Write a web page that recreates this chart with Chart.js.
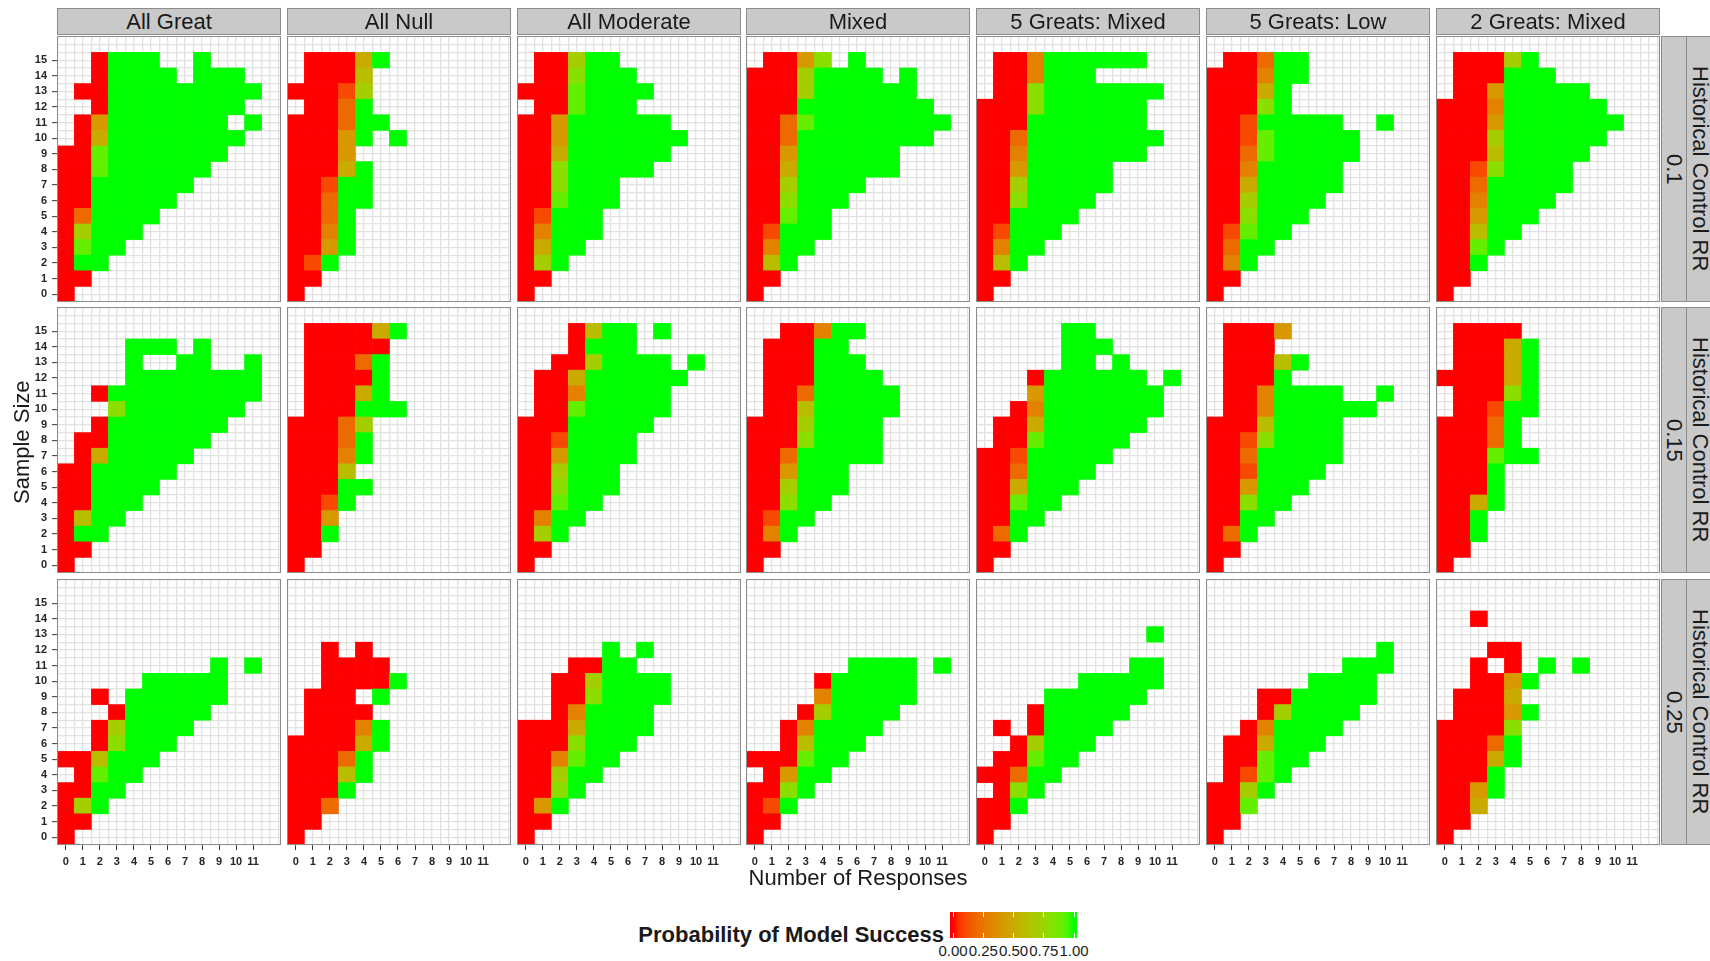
<!DOCTYPE html>
<html>
<head>
<meta charset="utf-8">
<title>Probability of Model Success</title>
<script src="https://cdn.jsdelivr.net/npm/chart.js@4.4.1/dist/chart.umd.min.js"></script>
<style>
  body { margin: 0; background: #fff; font-family: "Liberation Sans", Arial, sans-serif; color: #1a1a1a; }
  #page { position: relative; width: 1710px; height: 961px; overflow: hidden; }
  .strip { position: absolute; box-sizing: border-box; background: #c9c9c9; border: 1px solid #8c8c8c;
           font-size: 22px; display: flex; align-items: center; justify-content: center; white-space: nowrap; }
  .vert { writing-mode: vertical-rl; }
  .frame { position: absolute; box-sizing: border-box; border: 1px solid #8c8c8c; pointer-events: none; }
  .txt { position: absolute; white-space: nowrap; }
</style>
</head>
<body>
<div id="page"></div>
<script>
// --- DATA --- //
const responses = [0, 1, 2, 3, 4, 5, 6, 7, 8, 9, 10, 11];            // x: number of responses
const sampleSizes = [0, 1, 2, 3, 4, 5, 6, 7, 8, 9, 10, 11, 12, 13, 14, 15]; // y: sample size
const designs = ["All Great", "All Null", "All Moderate", "Mixed", "5 Greats: Mixed", "5 Greats: Low", "2 Greats: Mixed"];
const controlRR = ["0.1", "0.15", "0.25"];
const legendBreaks = [0, 0.25, 0.5, 0.75, 1];

// One string per sample size (15 at the top down to 0), one char per response 0..11.
// digit = probability in tenths, G = 1.00, . = no tile
const rr10_allGreat = ["..0GGG..G...", "..0GGGG.GGG.", ".00GGGGGGGGG", "..0GGGGGGGG.", ".04GGGGGGG.G", ".05GGGGGGGG.",
  "009GGGGGGG..", "009GGGGGG...", "00GGGGGG....", "00GGGGG.....", "02GGGG......", "07GGG.......", "09GG........",
  "0GG.........", "00..........", "0..........."];
const rr10_allNull = [".0005G......", ".0006.......", "00017.......", ".002G.......", "0002GG......", "0004G.G.....",
  "0004........", "0005G.......", "001GG.......", "002GG.......", "002G........", "003G........", "004G........",
  "01G.........", "00..........", "0..........."];
const rr10_allModerate = [".007GG......", ".008GGG.....", "0009GGGG....", ".009GGG.....", "004GGGGGG...", "004GGGGGGG..",
  "005GGGGGG...", "008GGGGG....", "008GGG......", "009GGG......", "01GGG.......", "03GGG.......", "05GG........",
  "07G.........", "00..........", "0..........."];
const rr10_mixed = [".0048.G.....", "0007GGGG.G..", "0007GGGGGG..", "000GGGGGGGG.", "0029GGGGGGGG", "002GGGGGGGG.",
  "004GGGGGG...", "005GGGGGG...", "007GGGG.....", "008GGG......", "009GG.......", "01GGG.......", "03GG........",
  "06G.........", "00..........", "0..........."];
const rr10_5GreatsMixed = [".003GGGGGG..", ".003GGG.....", ".008GGGGGGG.", "0008GGGGGG..", "000GGGGGGG..", "002GGGGGGGG.",
  "003GGGGGGG..", "004GGGGG....", "007GGGGG....", "008GGGG.....", "00GGGG......", "01GGG.......", "03GG........",
  "06G.........", "00..........", "0..........."];
const rr10_5GreatsLow = [".002GG......", "0003GG......", "0005G.......", "0008G.......", "001GGGGG..G.", "0019GGGGG...",
  "0029GGGGG...", "003GGGGG....", "005GGGGG....", "007GGGG.....", "008GGG......", "019GG.......", "02GG........",
  "03G.........", "00..........", "0..........."];
const rr10_2GreatsMixed = [".0007G......", ".000GGG.....", ".004GGGGG...", "0003GGGGGG..", "0004GGGGGGG.", "0007GGGGGG..",
  "0006GGGGG...", "0018GGGG....", "002GGGGG....", "003GGGG.....", "004GGG......", "006GG.......", "009G........",
  "00G.........", "00..........", "0..........."];

const rr15_allGreat = ["............", "....GGG.G...", "....G..GG..G", "....GGGGGGGG", "..0GGGGGGGGG", "...8GGGGGGG.",
  "..0GGGGGGG..", ".00GGGGGG...", ".05GGGGG....", "00GGGGG.....", "00GGGG......", "00GGG.......", "06GG........",
  "0GG.........", "00..........", "0..........."];
const rr15_allNull = [".00005G.....", ".00000......", ".0002G......", ".0000G......", ".0005G......", ".000GGG.....",
  "00027.......", "0002G.......", "0003G.......", "0006........", "000GG.......", "001G........", "004.........",
  "00G.........", "00..........", "0..........."];
const rr15_allModerate = ["...06GG.G...", "...0GGG.....", "..007GGGG.G.", ".005GGGGGG..", ".003GGGGG...", ".009GGGGG...",
  "000GGGGG....", "001GGGG.....", "004GGGG.....", "007GGG......", "008GGG......", "009GG.......", "03GG........",
  "07G.........", "00..........", "0..........."];
const rr15_mixed = ["..003GG.....", ".000GG......", ".000GGG.....", ".000GGGG....", ".002GGGGG...", ".006GGGGG...",
  "0007GGGG....", "0008GGGG....", "002GGGGG....", "004GGG......", "007GGG......", "008GG.......", "01GG........",
  "03G.........", "00..........", "0..........."];
const rr15_5GreatsMixed = [".....GG.....", ".....GGG....", ".....GG.G...", "...0GGGGGG.G", "...4GGGGGGG.", "..03GGGGGGG.",
  ".005GGGGGG..", ".009GGGGG...", "001GGGGG....", "002GGGG.....", "005GGG......", "009GG.......", "00GG........",
  "02G.........", "00..........", "0..........."];
const rr15_5GreatsLow = [".0004.......", ".000........", ".0006G......", ".000G.......", ".003GGGG..G.", ".003GGGGGG..",
  "0006GGGG....", "0018GGGG....", "002GGGGG....", "001GGGG.....", "004GGG......", "008GG.......", "00GG........",
  "02G.........", "00..........", "0..........."];
const rr15_2GreatsMixed = [".0000.......", ".0005G......", ".0005G......", "00005G......", ".0008G......", ".001GG......",
  "0002G.......", "0002G.......", "0009GG......", "000G........", "000G........", "005G........", "00G.........",
  "00G.........", "00..........", "0..........."];

const rr25_allGreat = ["............", "............", "............", "............", ".........G.G", ".....GGGGG..",
  "..0.GGGGGG..", "...0GGGGG...", "..07GGGG....", "..08GGG.....", "006GGG......", ".09GG.......", "00GG........",
  "07G.........", "00..........", "0..........."];
const rr25_allNull = ["............", "............", "............", "..0.0.......", "..0000......", "..0000G.....",
  ".000.G......", ".0000.......", ".0003G......", "00005G......", "0002G.......", "0006G.......", "000G........",
  "002.........", "00..........", "0..........."];
const rr25_allModerate = ["............", "............", "............", ".....G.G....", "...00GG.....", "..007GGGG...",
  "..008GGGG...", "..03GGGG....", "0005GGGG....", "0008GGG.....", "0039GG......", "007GG.......", "008G........",
  "04G.........", "00..........", "0..........."];
const rr25_mixed = ["............", "............", "............", "............", "......GGGG.G", "....0GGGGG..",
  "....3GGGGG..", "...07GGGG...", "..03GGGG....", "..06GGG.....", "0009GG......", ".04GG.......", "008G........",
  "01G.........", "00..........", "0..........."];
const rr25_5GreatsMixed = ["............", "............", "..........G.", "............", ".........GG.", "......GGGGG.",
  "....GGGGGG..", "...0GGGGG...", ".0.0GGGG....", "..07GGG.....", ".009GG......", "002GG.......", ".08G........",
  "00G.........", "00..........", "0..........."];
const rr25_5GreatsLow = ["............", "............", "............", "..........G.", "........GGG.", "......GGGG..",
  "...00GGGGG..", "...07GGGG...", "..03GGGG....", ".005GGG.....", ".009GG......", ".019G.......", "007G........",
  "009.........", "00..........", "0..........."];
const rr25_2GreatsMixed = ["............", "..0.........", "............", "...00.......", "..0.0.G.G...", "..004G......",
  ".0005.......", ".0004G......", "00008.......", "0002G.......", "0005G.......", "000G........", "004G........",
  "005.........", "00..........", "0..........."];

const panels = [
  [rr10_allGreat, rr10_allNull, rr10_allModerate, rr10_mixed, rr10_5GreatsMixed, rr10_5GreatsLow, rr10_2GreatsMixed],
  [rr15_allGreat, rr15_allNull, rr15_allModerate, rr15_mixed, rr15_5GreatsMixed, rr15_5GreatsLow, rr15_2GreatsMixed],
  [rr25_allGreat, rr25_allNull, rr25_allModerate, rr25_mixed, rr25_5GreatsMixed, rr25_5GreatsLow, rr25_2GreatsMixed],
];

// --- LAYOUT --- //
const COL_LEFT = [57, 287, 517, 746, 976, 1206, 1436];
const ROW_TOP = [36, 307, 579];
const PW = 224, PH = 266;       // panel size
const AXW = 27, AXH = 26;       // y tick area, x tick area
const X_MIN = -0.52, X_MAX = 12.64, Y_MIN = -0.5, Y_MAX = 16.55;
const GRID = "#e2e2e2";
const TICK_TXT = "#262626";
const tickFont = { family: "Liberation Sans", size: 11, weight: "bold" };

// --- COLOUR: red -> green, interpolated in Lab like ggplot --- //
const toLin = (c) => { c /= 255; return c <= 0.04045 ? c / 12.92 : Math.pow((c + 0.055) / 1.055, 2.4); };
const toByte = (c) => { c = c <= 0.0031308 ? 12.92 * c : 1.055 * Math.pow(c, 1 / 2.4) - 0.055; return Math.round(Math.max(0, Math.min(1, c)) * 255); };
function rgbToLab([r, g, b]) {
  r = toLin(r); g = toLin(g); b = toLin(b);
  const X = (0.4124 * r + 0.3576 * g + 0.1805 * b) / 0.95047;
  const Y = 0.2126 * r + 0.7152 * g + 0.0722 * b;
  const Z = (0.0193 * r + 0.1192 * g + 0.9505 * b) / 1.08883;
  const f = (t) => (t > 0.008856 ? Math.cbrt(t) : 7.787 * t + 16 / 116);
  return [116 * f(Y) - 16, 500 * (f(X) - f(Y)), 200 * (f(Y) - f(Z))];
}
function labToRgb([L, a, b]) {
  const fy = (L + 16) / 116, fx = fy + a / 500, fz = fy - b / 200;
  const inv = (t) => (t > 0.206893 ? t * t * t : (t - 16 / 116) / 7.787);
  const X = inv(fx) * 0.95047, Y = inv(fy), Z = inv(fz) * 1.08883;
  return [
    toByte(3.2406 * X - 1.5372 * Y - 0.4986 * Z),
    toByte(-0.9689 * X + 1.8758 * Y + 0.0415 * Z),
    toByte(0.0557 * X - 0.204 * Y + 1.057 * Z),
  ];
}
const LOW = rgbToLab([255, 0, 0]), HIGH = rgbToLab([0, 255, 0]);
function fillFor(p) {
  const [r, g, b] = labToRgb(LOW.map((v, i) => v + (HIGH[i] - v) * p));
  return `rgb(${r},${g},${b})`;
}

function panelCells(grid) {
  const cells = [];
  grid.forEach((row, i) => {
    const n = sampleSizes[sampleSizes.length - 1 - i];
    [...row].forEach((ch, j) => {
      if (ch === ".") return;
      cells.push({ x: responses[j], n, p: ch === "G" ? 1 : Number(ch) / 10 });
    });
  });
  return cells;
}

const page = document.getElementById("page");
function addDiv(cls, text, css) {
  const d = document.createElement("div");
  d.className = cls;
  d.textContent = text;
  d.style.cssText = css;
  page.appendChild(d);
  return d;
}

const halfSteps = (lo, hi) => { const t = []; for (let v = lo; v <= hi + 1e-9; v += 0.5) t.push({ value: v }); return t; };
// keep every panel's plot area the same size: no extra room for tick labels
const noPad = (s) => { s.paddingTop = 0; s.paddingBottom = 0; s.paddingLeft = 0; s.paddingRight = 0; };

// --- PANELS --- //
panels.forEach((rowPanels, r) => {
  rowPanels.forEach((grid, c) => {
    const showY = c === 0, showX = r === panels.length - 1;
    const left = COL_LEFT[c] - (showY ? AXW : 0);
    const w = PW + (showY ? AXW : 0), h = PH + (showX ? AXH : 0);
    const cv = document.createElement("canvas");
    cv.width = w; cv.height = h;
    cv.style.cssText = `position:absolute;left:${left}px;top:${ROW_TOP[r]}px;width:${w}px;height:${h}px;`;
    page.appendChild(cv);

    const cells = panelCells(grid);
    new Chart(cv, {
      type: "bar",
      data: {
        datasets: [{
          xAxisID: "x",
          yAxisID: "y",
          data: cells.map((d) => ({ x: d.x, y: [d.n - 0.5, d.n + 0.5] })),
          backgroundColor: cells.map((d) => fillFor(d.p)),
          borderWidth: 0,
          barPercentage: 1,
          categoryPercentage: 1,
        }],
      },
      options: {
        responsive: false,
        animation: false,
        events: [],
        layout: { padding: 0, autoPadding: false },
        plugins: { legend: { display: false }, tooltip: { enabled: false } },
        scales: {
          x: {
            type: "linear", position: "bottom", min: X_MIN, max: X_MAX, offset: false,
            afterBuildTicks: (s) => { s.ticks = responses.map((v) => ({ value: v })); },
            afterFit: (s) => { s.height = showX ? AXH : 0; noPad(s); },
            grid: { drawOnChartArea: false, offset: false, drawTicks: showX, tickLength: 5, tickColor: "#333", tickWidth: 1 },
            border: { display: false },
            ticks: { display: showX, autoSkip: false, maxRotation: 0, padding: 5, font: tickFont, color: TICK_TXT,
                     callback: (v) => String(v) },
          },
          xg: {
            type: "linear", position: "bottom", min: X_MIN, max: X_MAX, offset: false,
            afterBuildTicks: (s) => { s.ticks = halfSteps(-0.5, 12.5); },
            afterFit: (s) => { s.height = 0; noPad(s); },
            grid: { color: GRID, lineWidth: 1.3, drawTicks: false, offset: false },
            border: { display: false },
            ticks: { display: false },
          },
          y: {
            type: "linear", min: Y_MIN, max: Y_MAX,
            afterBuildTicks: (s) => { s.ticks = halfSteps(-0.5, 16.5); },
            afterFit: (s) => { s.width = showY ? AXW : 0; noPad(s); },
            grid: {
              color: GRID, lineWidth: 1.3, drawTicks: showY, tickLength: 5, tickWidth: 1,
              tickColor: (ctx) => (ctx.tick && Number.isInteger(ctx.tick.value) && ctx.tick.value <= 15 ? "#333" : "rgba(0,0,0,0)"),
            },
            border: { display: false },
            ticks: { display: showY, autoSkip: false, padding: 5, font: tickFont, color: TICK_TXT,
                     callback: (v) => (Number.isInteger(v) && sampleSizes.includes(v) ? String(v) : "") },
          },
        },
      },
    });

    addDiv("frame", "", `left:${COL_LEFT[c]}px;top:${ROW_TOP[r]}px;width:${PW}px;height:${PH}px;`);
  });
});

// --- STRIPS --- //
designs.forEach((name, c) => {
  addDiv("strip", name, `left:${COL_LEFT[c]}px;top:8px;width:${PW}px;height:27px;`);
});
controlRR.forEach((rr, r) => {
  addDiv("strip vert", rr, `left:1661px;top:${ROW_TOP[r]}px;width:26px;height:${PH}px;`);
  addDiv("strip vert", "Historical Control RR", `left:1686px;top:${ROW_TOP[r]}px;width:27px;height:${PH}px;`);
});

// --- AXIS TITLES --- //
addDiv("txt", "Number of Responses", "left:658px;width:400px;text-align:center;top:866px;font-size:22px;line-height:24px;");
addDiv("txt", "Sample Size", "left:10px;top:342px;width:24px;height:200px;font-size:22px;writing-mode:vertical-rl;transform:rotate(180deg);text-align:center;line-height:24px;");

// --- LEGEND --- //
addDiv("txt", "Probability of Model Success", "left:560px;width:384px;text-align:right;top:923px;font-size:22px;font-weight:bold;line-height:24px;");
const BAR_L = 950, BAR_T = 912, BAR_W = 127, BAR_H = 26, B0 = 953, B1 = 1074;
const stops = [];
for (let i = 0; i <= 20; i++) stops.push(`${fillFor(i / 20)} ${((B0 - BAR_L) + (B1 - B0) * i / 20) / BAR_W * 100}%`);
addDiv("txt", "", `left:${BAR_L}px;top:${BAR_T}px;width:${BAR_W}px;height:${BAR_H}px;background:linear-gradient(to right, ${stops.join(",")});`);
legendBreaks.forEach((v) => {
  const x = B0 + (B1 - B0) * v;
  addDiv("txt", "", `left:${x - 0.5}px;top:${BAR_T}px;width:1px;height:5px;background:#fff;`);
  addDiv("txt", "", `left:${x - 0.5}px;top:${BAR_T + BAR_H - 5}px;width:1px;height:5px;background:#fff;`);
  addDiv("txt", v.toFixed(2), `left:${x - 20}px;width:40px;text-align:center;top:942px;font-size:15px;line-height:17px;`);
});
</script>
</body>
</html>
